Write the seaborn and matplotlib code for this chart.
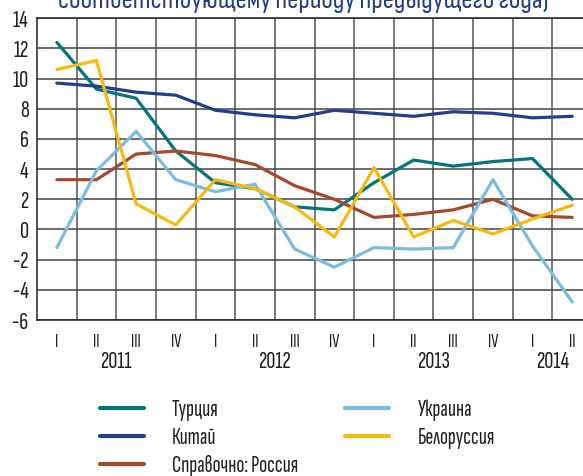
import numpy as np
import pandas as pd
import matplotlib
matplotlib.use('Agg')
import matplotlib.pyplot as plt
import seaborn as sns

# Данные: квартальные темпы роста, % к соответствующему периоду предыдущего года
quarters = ['I', 'II', 'III', 'IV', 'I', 'II', 'III', 'IV', 'I', 'II', 'III', 'IV', 'I', 'II']
year_of_q = ['2011'] * 4 + ['2012'] * 4 + ['2013'] * 4 + ['2014'] * 2
turkey = [12.4, 9.3, 8.7, 5.2, 3.1, 2.7, 1.5, 1.3, 3.1, 4.6, 4.2, 4.5, 4.7, 2.0]
china = [9.7, 9.5, 9.1, 8.9, 7.9, 7.6, 7.4, 7.9, 7.7, 7.5, 7.8, 7.7, 7.4, 7.5]
russia = [3.3, 3.3, 5.0, 5.2, 4.9, 4.3, 2.9, 2.0, 0.8, 1.0, 1.3, 2.0, 0.9, 0.8]
ukraine = [-1.2, 3.9, 6.5, 3.3, 2.5, 3.0, -1.3, -2.5, -1.2, -1.3, -1.2, 3.3, -1.1, -4.8]
belarus = [10.6, 11.2, 1.7, 0.3, 3.3, 2.7, 1.5, -0.5, 4.1, -0.5, 0.6, -0.3, 0.7, 1.6]

series = {
    'Турция': turkey,
    'Китай': china,
    'Справочно: Россия': russia,
    'Украина': ukraine,
    'Белоруссия': belarus,
}
colors = {
    'Турция': '#00767d',
    'Китай': '#253d8f',
    'Справочно: Россия': '#a5492c',
    'Украина': '#7abde0',
    'Белоруссия': '#f7b90f',
}

idx = np.arange(len(quarters))
df = pd.concat([pd.DataFrame({'x': idx, 'value': v, 'country': k}) for k, v in series.items()])

sns.set_style('white')
FONT = ['Sofia Sans Extra Condensed', 'Roboto Condensed', 'DejaVu Sans']
plt.rcParams['font.family'] = FONT
plt.rcParams['font.weight'] = 'light'
plt.rcParams['text.color'] = '#231f20'
plt.rcParams['xtick.color'] = '#231f20'
plt.rcParams['ytick.color'] = '#231f20'

fig = plt.figure(figsize=(5.83, 4.76), dpi=100)
ax = fig.add_axes([0.0635, 0.3277, 0.952, 0.634])

sns.lineplot(data=df, x='x', y='value', hue='country', palette=colors,
             hue_order=list(series.keys()), sort=False, lw=2.3, ax=ax, legend=False)

ax.set_xlim(-0.5, 13.5)
ax.set_ylim(-6, 14)
ax.set_yticks(range(-6, 15, 2))
ax.set_yticklabels([str(v) for v in range(-6, 15, 2)], fontsize=18)
ax.set_xticks(idx)
ax.set_xticklabels(quarters, fontsize=14, fontweight='normal')
ax.set_xticks(idx[:-1] + 0.5, minor=True)
ax.tick_params(axis='both', which='both', length=0)
ax.tick_params(axis='y', pad=6)
ax.tick_params(axis='x', pad=9)
ax.grid(axis='y', which='major', color='#444444', lw=1.1)
ax.grid(axis='x', which='minor', color='#555555', lw=1.1)
ax.set_axisbelow(True)
for s in ax.spines.values():
    s.set_color('#231f20')
    s.set_linewidth(1.1)
ax.set_xlabel('')
ax.set_ylabel('')

# подписи годов
for y in ['2011', '2012', '2013', '2014']:
    pos = idx[[q == y for q in year_of_q]].mean()
    ax.text(pos, -0.14, y, transform=ax.get_xaxis_transform(), ha='center', va='center', fontsize=18)

# заголовок (обрезан сверху)
fig.text(0.52, 0.984, 'соответствующему периоду предыдущего года)', ha='center', va='baseline',
         fontsize=20, fontweight='bold', color='#1f3c8f',
         family=['Sofia Sans Condensed', 'Roboto Condensed', 'DejaVu Sans'])

handles = [plt.Line2D([], [], color=colors[k], lw=3) for k in series]
fig.legend(handles, list(series.keys()), ncol=2, loc='upper left',
           bbox_to_anchor=(100 / 583, 1 - 399 / 476), frameon=False, fontsize=17,
           handlelength=1.85, handletextpad=1.2, columnspacing=2.0,
           labelspacing=0.25, borderpad=0, borderaxespad=0)

fig.savefig('out.png', dpi=100)
